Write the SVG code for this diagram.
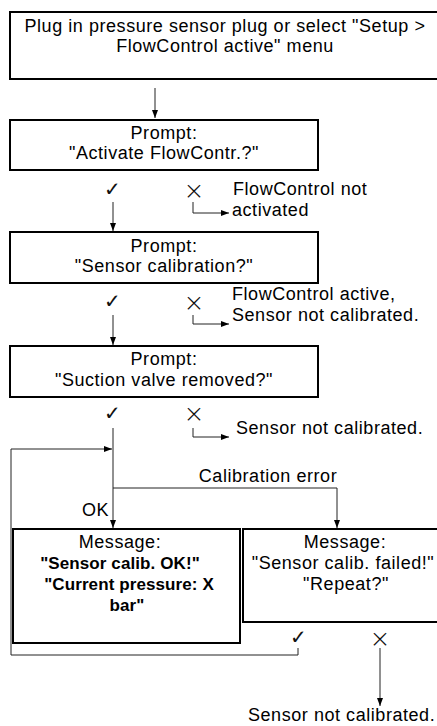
<svg xmlns="http://www.w3.org/2000/svg" width="437" height="726" viewBox="0 0 437 726">
<defs>
<style>
.box{fill:#fff;stroke:#000;stroke-width:2}
.t{font-family:"Liberation Sans",Arial,sans-serif;font-size:18px;fill:#000;letter-spacing:0.55px}
.c{text-anchor:middle}
.b{font-weight:bold;font-size:17px;letter-spacing:0.1px}
.ln{fill:none;stroke:#222;stroke-width:1}
.ck{font-family:"DejaVu Sans",sans-serif;font-size:20px;fill:#111;text-anchor:middle;font-weight:200}
.x{font-family:"DejaVu Sans",sans-serif;font-size:25px;fill:#111;text-anchor:middle;font-weight:200}
</style>
<marker id="ah" markerWidth="8" markerHeight="6" refX="8" refY="3" orient="auto" markerUnits="userSpaceOnUse">
<path d="M0,0 L8,3 L0,6 Z" fill="#000"/>
</marker>
</defs>
<rect width="437" height="726" fill="#fff"/>

<g id="start">
<rect class="box" x="10" y="12" width="440" height="67"/>
<text class="t c" x="225" y="32">Plug in pressure sensor plug or select "Setup &gt;</text>
<text class="t c" x="225" y="52">FlowControl active" menu</text>
</g>

<g id="prompt1">
<rect class="box" x="10" y="120" width="308" height="50"/>
<text class="t c" x="164" y="139">Prompt:</text>
<text class="t c" x="164" y="159">"Activate FlowContr.?"</text>
</g>

<g id="result1">
<text class="t" x="233" y="195">FlowControl not</text>
<text class="t" x="232" y="216">activated</text>
</g>

<g id="prompt2">
<rect class="box" x="10" y="232" width="308" height="51"/>
<text class="t c" x="164" y="252">Prompt:</text>
<text class="t c" x="164" y="272">"Sensor calibration?"</text>
</g>

<g id="result2">
<text class="t" x="232" y="300">FlowControl active,</text>
<text class="t" x="232" y="321">Sensor not calibrated.</text>
</g>

<g id="prompt3">
<rect class="box" x="10" y="346" width="308" height="51"/>
<text class="t c" x="164" y="365">Prompt:</text>
<text class="t c" x="164" y="386">"Suction valve removed?"</text>
</g>

<g id="result3">
<text class="t" x="236" y="434">Sensor not calibrated.</text>
</g>

<g id="msg-ok">
<rect class="box" x="13" y="529" width="227" height="114"/>
<text class="t c" x="120" y="548">Message:</text>
<text class="t c b" x="120" y="569">"Sensor calib. OK!"</text>
<text class="t c b" x="129" y="590">"Current pressure: X</text>
<text class="t c b" x="127" y="611">bar"</text>
</g>

<g id="msg-fail">
<rect class="box" x="243" y="529" width="210" height="93"/>
<text class="t c" x="345" y="548">Message:</text>
<text class="t c" x="343" y="569">"Sensor calib. failed!"</text>
<text class="t c" x="346" y="590">"Repeat?"</text>
</g>

<g id="result4">
<text class="t" x="248" y="721">Sensor not calibrated.</text>
</g>

<g id="symbols">
<text class="ck" x="112" y="196">✓</text>
<text class="x" x="194" y="199">×</text>
<text class="ck" x="112" y="308">✓</text>
<text class="x" x="194" y="311">×</text>
<text class="ck" x="112" y="420">✓</text>
<text class="x" x="194" y="422">×</text>
<text class="ck" x="298" y="644">✓</text>
<text class="x" x="380" y="647">×</text>
</g>

<g id="connectors">
<line class="ln" x1="155" y1="88" x2="155" y2="118" marker-end="url(#ah)"/>
<line class="ln" x1="113" y1="202" x2="113" y2="231" marker-end="url(#ah)"/>
<path class="ln" d="M193,202 V213 H229" marker-end="url(#ah)"/>
<line class="ln" x1="113" y1="315" x2="113" y2="345" marker-end="url(#ah)"/>
<path class="ln" d="M193,315 V324 H229" marker-end="url(#ah)"/>
<line class="ln" x1="113" y1="428" x2="113" y2="528" marker-end="url(#ah)"/>
<path class="ln" d="M193,428 V437 H229" marker-end="url(#ah)"/>
<path class="ln" d="M113,488 H337 V528" marker-end="url(#ah)"/>
<text class="t c" x="268" y="482">Calibration error</text>
<text class="t" x="82" y="516">OK</text>
<path class="ln" d="M298,648 V655 H11 V449 H112" marker-end="url(#ah)"/>
<line class="ln" x1="380" y1="648" x2="380" y2="706" marker-end="url(#ah)"/>
</g>
</svg>
